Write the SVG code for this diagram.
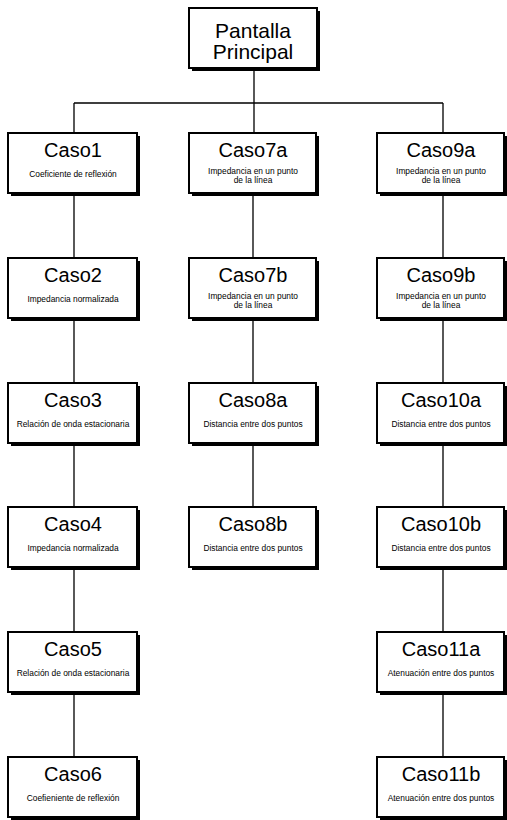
<svg xmlns="http://www.w3.org/2000/svg" width="507" height="820" viewBox="0 0 507 820">
<defs>
<style>
.sh{fill:#000}
.bx{fill:#fff;stroke:#000;stroke-width:2}
.t{font-family:"Liberation Sans",Arial,sans-serif;font-size:20px;text-anchor:middle;fill:#000}
.s{font-family:"Liberation Sans",Arial,sans-serif;font-size:8.4px;text-anchor:middle;fill:#000}
.c{stroke:#000;stroke-width:1.3;fill:none}
</style>
</defs>
<rect width="507" height="820" fill="#fff"/>
<g id="connectors">
<path class="c" d="M254 68V133M74 103H443M74 103V133M443 103V133"/>
<path class="c" d="M74 193V258M74 318V383M74 443V507M74 567V632M74 692V757"/>
<path class="c" d="M253 193V258M253 318V383M253 443V507"/>
<path class="c" d="M443 193V258M443 318V383M443 443V507M443 567V632M443 692V757"/>
</g>
<g id="pantalla"><rect class="sh" x="192" y="11" width="128" height="60"/><rect class="bx" x="189" y="8" width="128" height="60"/><text class="t" x="253" y="38" style="font-size:21px">Pantalla</text><text class="t" x="253" y="59" style="font-size:21px">Principal</text></g>

<g id="caso1"><rect class="sh" x="11" y="136" width="129" height="60"/><rect class="bx" x="8" y="133" width="129" height="60"/><text class="t" x="73" y="157">Caso1</text><text class="s" x="73" y="177">Coeficiente de reflexión</text></g>
<g id="caso2"><rect class="sh" x="11" y="261" width="129" height="60"/><rect class="bx" x="8" y="258" width="129" height="60"/><text class="t" x="73" y="282">Caso2</text><text class="s" x="73" y="302">Impedancia normalizada</text></g>
<g id="caso3"><rect class="sh" x="11" y="386" width="129" height="60"/><rect class="bx" x="8" y="383" width="129" height="60"/><text class="t" x="73" y="407">Caso3</text><text class="s" x="73" y="427">Relación de onda estacionaria</text></g>
<g id="caso4"><rect class="sh" x="11" y="510" width="129" height="60"/><rect class="bx" x="8" y="507" width="129" height="60"/><text class="t" x="73" y="531">Caso4</text><text class="s" x="73" y="551">Impedancia normalizada</text></g>
<g id="caso5"><rect class="sh" x="11" y="635" width="129" height="60"/><rect class="bx" x="8" y="632" width="129" height="60"/><text class="t" x="73" y="656">Caso5</text><text class="s" x="73" y="676">Relación de onda estacionaria</text></g>
<g id="caso6"><rect class="sh" x="11" y="760" width="129" height="60"/><rect class="bx" x="8" y="757" width="129" height="60"/><text class="t" x="73" y="781">Caso6</text><text class="s" x="73" y="801">Coefieniente de reflexión</text></g>

<g id="caso7a"><rect class="sh" x="192" y="136" width="127" height="60"/><rect class="bx" x="189" y="133" width="127" height="60"/><text class="t" x="253" y="157">Caso7a</text><text class="s" x="253" y="174">Impedancia en un punto</text><text class="s" x="253" y="183">de la línea</text></g>
<g id="caso7b"><rect class="sh" x="192" y="261" width="127" height="60"/><rect class="bx" x="189" y="258" width="127" height="60"/><text class="t" x="253" y="282">Caso7b</text><text class="s" x="253" y="299">Impedancia en un punto</text><text class="s" x="253" y="308">de la línea</text></g>
<g id="caso8a"><rect class="sh" x="192" y="386" width="127" height="60"/><rect class="bx" x="189" y="383" width="127" height="60"/><text class="t" x="253" y="407">Caso8a</text><text class="s" x="253" y="427">Distancia entre dos puntos</text></g>
<g id="caso8b"><rect class="sh" x="192" y="510" width="127" height="60"/><rect class="bx" x="189" y="507" width="127" height="60"/><text class="t" x="253" y="531">Caso8b</text><text class="s" x="253" y="551">Distancia entre dos puntos</text></g>

<g id="caso9a"><rect class="sh" x="380" y="136" width="127" height="60"/><rect class="bx" x="377" y="133" width="127" height="60"/><text class="t" x="441" y="157">Caso9a</text><text class="s" x="441" y="174">Impedancia en un punto</text><text class="s" x="441" y="183">de la línea</text></g>
<g id="caso9b"><rect class="sh" x="380" y="261" width="127" height="60"/><rect class="bx" x="377" y="258" width="127" height="60"/><text class="t" x="441" y="282">Caso9b</text><text class="s" x="441" y="299">Impedancia en un punto</text><text class="s" x="441" y="308">de la línea</text></g>
<g id="caso10a"><rect class="sh" x="380" y="386" width="127" height="60"/><rect class="bx" x="377" y="383" width="127" height="60"/><text class="t" x="441" y="407">Caso10a</text><text class="s" x="441" y="427">Distancia entre dos puntos</text></g>
<g id="caso10b"><rect class="sh" x="380" y="510" width="127" height="60"/><rect class="bx" x="377" y="507" width="127" height="60"/><text class="t" x="441" y="531">Caso10b</text><text class="s" x="441" y="551">Distancia entre dos puntos</text></g>
<g id="caso11a"><rect class="sh" x="380" y="635" width="127" height="60"/><rect class="bx" x="377" y="632" width="127" height="60"/><text class="t" x="441" y="656">Caso11a</text><text class="s" x="441" y="676">Atenuación entre dos puntos</text></g>
<g id="caso11b"><rect class="sh" x="380" y="760" width="127" height="60"/><rect class="bx" x="377" y="757" width="127" height="60"/><text class="t" x="441" y="781">Caso11b</text><text class="s" x="441" y="801">Atenuación entre dos puntos</text></g>
</svg>
